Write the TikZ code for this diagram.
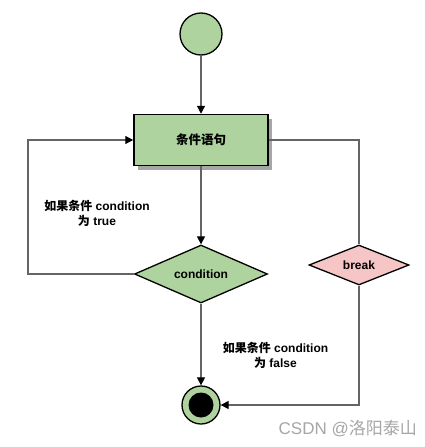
\documentclass[tikz,border=0pt]{standalone}
\usepackage{fontspec}
\setmainfont{Liberation Sans}
\newfontfamily\cjk{Noto Sans CJK SC}
\usetikzlibrary{arrows.meta,shapes.geometric,shadows}
\definecolor{ngreen}{RGB}{174,211,158}
\definecolor{npink}{RGB}{246,198,198}
\definecolor{lgray}{RGB}{100,100,100}
\tikzset{
  conn/.style={draw=lgray, line width=1.2pt, -{Triangle[length=8pt,width=8pt,fill=black,color=black]}},
  plainconn/.style={draw=lgray, line width=1.2pt},
  stepbox/.style={draw=black, line width=1.5pt, fill=ngreen, minimum width=134pt, minimum height=51pt, inner sep=0pt,
    drop shadow={shadow xshift=4pt, shadow yshift=-4pt, fill=gray!70, opacity=1}},
  decision/.style={diamond, draw=black, line width=1.3pt, inner sep=0pt, aspect=2.3},
  lbl/.style={font=\bfseries\fontsize{12}{15}\selectfont, align=center},
}
\begin{document}
\begin{tikzpicture}[x=1pt,y=-1pt]
\useasboundingbox (0,0) rectangle (425,447);
\fill[white] (0,0) rectangle (425,447);
\node[circle, draw=black, line width=1.3pt, fill=ngreen, minimum size=42pt, inner sep=0pt] (start) at (201,34) {};
\node[stepbox] (box) at (201,140) {\cjk\bfseries\fontsize{12.5}{14}\selectfont 条件语句};
\node[decision, fill=ngreen, minimum width=133pt, minimum height=58pt] (cond) at (201,274) {\bfseries\fontsize{12}{14}\selectfont condition};
\node[decision, fill=npink, minimum width=100pt, minimum height=40pt] (brk) at (359,265) {\bfseries\fontsize{12}{14}\selectfont break};
\node[circle, draw=black, line width=1.3pt, fill=ngreen, minimum size=38pt, inner sep=0pt] (end) at (201,405) {};
\fill[black] (end.center) circle (12.5pt);
\coordinate (lc) at (28,274);
\coordinate (lt) at (28,140);
\coordinate (rt) at (359,140);
\coordinate (rb) at (359,405);
\draw[conn] (start) -- (box);
\draw[conn] (box) -- (cond);
\draw[conn] (cond.west) -- (lc) -- (lt) -- (box.west);
\draw[conn] (cond) -- (end);
\draw[plainconn] (box.east) -- (rt) -- (brk.north);
\draw[conn] (brk.south) -- (rb) -- (end.east);
\node[lbl] (ltrue) at (97,213.5) {{\cjk 如果条件} condition\\{\cjk 为} true};
\node[lbl] (lfalse) at (275.5,355) {{\cjk 如果条件} condition\\{\cjk 为} false};
\node[text=gray!70, font=\fontsize{17}{19}\selectfont, anchor=east, inner sep=0pt] (wm) at (417,429) {CSDN @{\cjk 洛阳泰山}};
\end{tikzpicture}
\end{document}
